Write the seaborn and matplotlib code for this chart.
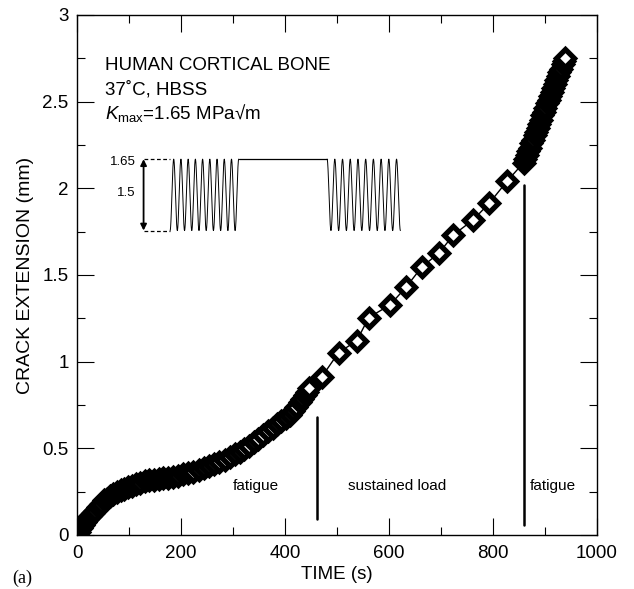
import numpy as np
import pandas as pd
import matplotlib
matplotlib.use("Agg")
import matplotlib.pyplot as plt
import seaborn as sns

# ─── Data ─────────────────────────────────────────────────────────────────
# fatigue, first segment
fat1_time = [0, 4, 8, 12, 16, 20, 25, 30, 35, 40, 46, 52, 58, 64, 70, 77, 84, 91,
             98, 106, 114, 122, 130, 139, 148, 157, 166, 175, 184, 194, 204, 214,
             224, 234, 244, 254, 264, 274, 284, 294, 304, 313, 322, 331, 340, 349,
             358, 367, 376, 385, 393, 401, 409, 416, 422, 428, 433, 438, 442, 446]
fat1_crack = [0.00, 0.02, 0.04, 0.06, 0.075, 0.09, 0.11, 0.125, 0.14, 0.16, 0.18,
              0.20, 0.21, 0.225, 0.235, 0.25, 0.26, 0.268, 0.278, 0.285, 0.296,
              0.302, 0.31, 0.315, 0.318, 0.322, 0.326, 0.33, 0.336, 0.343, 0.35,
              0.356, 0.364, 0.374, 0.386, 0.396, 0.41, 0.42, 0.434, 0.45, 0.466,
              0.48, 0.497, 0.515, 0.535, 0.556, 0.578, 0.60, 0.62, 0.638, 0.655,
              0.674, 0.695, 0.715, 0.74, 0.765, 0.785, 0.805, 0.825, 0.85]

# sustained load
sus_time = [471, 503, 538, 561, 602, 633, 663, 697, 724, 762, 793, 827, 859]
sus_crack = [0.913, 1.052, 1.12, 1.254, 1.327, 1.43, 1.545, 1.629, 1.731, 1.818,
             1.914, 2.04, 2.148]

# fatigue, second segment
fat2_time = [862, 865, 868, 871, 874, 877, 880, 883, 886, 889, 892, 895, 898, 901,
             904, 907, 910, 913, 916, 919, 922, 925, 928, 931, 934, 937, 939]
fat2_crack = [2.17, 2.19, 2.215, 2.235, 2.26, 2.28, 2.305, 2.325, 2.35, 2.37, 2.395,
              2.42, 2.44, 2.465, 2.49, 2.51, 2.535, 2.555, 2.58, 2.60, 2.625, 2.645,
              2.67, 2.69, 2.715, 2.735, 2.75]

# loading schematic (inset, drawn in data coords)
K_HI, K_LO = 2.168, 1.756
WAVE1 = (179, 311)      # fatigue block 1 (start, end)
WAVE2 = (481, 622)      # fatigue block 2
HOLD = (311, 481)       # sustained load block
N_HALF = 19             # half-cycles per fatigue block

# region markers
split_lines = [(461, 0.09, 0.683), (860, 0.058, 2.02)]
region_labels = [("fatigue", 344, 0.285), ("sustained load", 615, 0.285),
                 ("fatigue", 916, 0.28)]

# ─── Plot ─────────────────────────────────────────────────────────────────
sns.set_theme(style="ticks")
plt.rcParams["font.family"] = ["Liberation Sans", "DejaVu Sans"]
plt.rcParams["mathtext.fontset"] = "custom"
plt.rcParams["mathtext.rm"] = "Liberation Sans"
plt.rcParams["mathtext.it"] = "Liberation Sans:italic"
for key in ("text.color", "axes.labelcolor", "xtick.color", "ytick.color"):
    plt.rcParams[key] = "black"

df = pd.DataFrame({
    "time": fat1_time + sus_time + fat2_time,
    "crack": fat1_crack + sus_crack + fat2_crack,
})

fig = plt.figure(figsize=(6.34, 5.89), dpi=100)
ax = fig.add_axes([0.1215, 0.0917, 0.820, 0.883])

sns.lineplot(data=df, x="time", y="crack", ax=ax, color="black", lw=1.0,
             marker="D", markersize=9.5, markerfacecolor="white",
             markeredgecolor="black", markeredgewidth=3.8, sort=False,
             estimator=None)

# inset loading schematic
mid, amp = (K_HI + K_LO) / 2, (K_HI - K_LO) / 2
t1 = np.linspace(*WAVE1, 800)
w1 = mid - amp * np.cos(np.pi * N_HALF * (t1 - WAVE1[0]) / (WAVE1[1] - WAVE1[0]))
t2 = np.linspace(*WAVE2, 800)
w2 = mid + amp * np.cos(np.pi * N_HALF * (t2 - WAVE2[0]) / (WAVE2[1] - WAVE2[0]))
ax.plot(t1, w1, color="black", lw=0.7)
ax.plot(HOLD, [K_HI, K_HI], color="black", lw=0.9)
ax.plot(t2, w2, color="black", lw=0.7)
ax.plot([128, WAVE1[0]], [K_HI, K_HI], color="black", lw=0.9, ls=(0, (3, 2)))
ax.plot([128, WAVE1[0]], [K_LO, K_LO], color="black", lw=0.9, ls=(0, (3, 2)))
ax.annotate("", xy=(128, K_HI), xytext=(128, K_LO),
            arrowprops=dict(arrowstyle="<|-|>", color="black", lw=1.3,
                            mutation_scale=9, shrinkA=0, shrinkB=0))
ax.text(114, 2.15, "1.65", ha="right", va="center", fontsize=9.5)
ax.text(112, 1.97, "1.5", ha="right", va="center", fontsize=9.5)

# header text
ax.text(54, 2.71, "HUMAN CORTICAL BONE", ha="left", va="center", fontsize=13.5)
ax.text(54, 2.568, "37˚C, HBSS", ha="left", va="center", fontsize=13.5)
ax.text(54, 2.433, r"$K_{\mathrm{max}}$=1.65 MPa√m", ha="left", va="center",
        fontsize=13.5)

for x, y0, y1 in split_lines:
    ax.plot([x, x], [y0, y1], color="black", lw=1.8)
for label, x, y in region_labels:
    ax.text(x, y, label, ha="center", va="center", fontsize=11)

ax.set_xlim(0, 1000)
ax.set_ylim(0, 3)
ax.set_xticks(np.arange(0, 1001, 200))
ax.set_xticks(np.arange(0, 1001, 100), minor=True)
ax.set_yticks(np.arange(0, 3.01, 0.5))
ax.set_yticks(np.arange(0, 3.01, 0.25), minor=True)
ax.set_yticklabels(["0", "0.5", "1", "1.5", "2", "2.5", "3"])
ax.tick_params(which="both", direction="in", top=True, right=True,
               labelsize=13.5, width=0.8, color="black")
ax.tick_params(which="major", length=12)
ax.tick_params(axis="x", which="major", pad=7)
ax.tick_params(axis="y", which="major", pad=6)
ax.tick_params(which="minor", length=6)
for s in ax.spines.values():
    s.set_linewidth(1.0)
    s.set_color("black")

ax.set_xlabel("TIME (s)", fontsize=13.5, labelpad=3)
ax.set_ylabel("CRACK EXTENSION (mm)", fontsize=14, labelpad=6)
fig.text(12 / 634, 1 - 578 / 589, "(a)", family="Liberation Serif",
         fontsize=13, va="center", ha="left")

fig.savefig("out.png", dpi=100)
